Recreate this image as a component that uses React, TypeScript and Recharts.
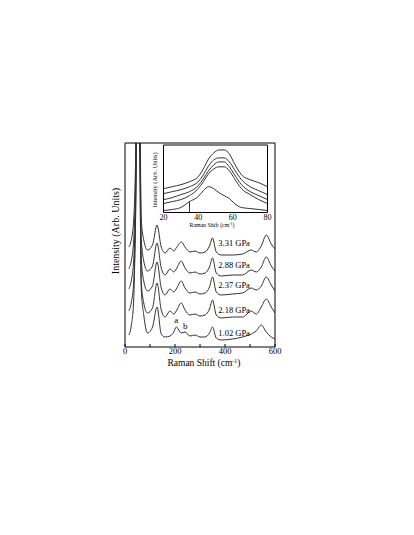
import { LineChart, Line, XAxis, YAxis, ReferenceDot, ReferenceLine, Label, CartesianGrid } from 'recharts';

const serif = '"Liberation Serif", "Times New Roman", serif';

// main spectra, Raman shift in cm-1
const shifts = [15, 25, 35, 42, 50, 58, 65, 75, 90, 110, 128, 145, 160, 180, 195, 205, 225, 240, 260, 280, 300, 320, 338, 350, 365, 385, 430, 470, 505, 525, 545, 565, 585, 600];
const i102 = [12, 21, 48, 128, 260, 210, 58, 32, 14, 20, 40, 13, 10, 11, 15, 20, 14, 15, 11, 12, 10, 10, 14, 20, 9, 7, 8, 10, 13, 16, 22, 15, 10, 8];
const i218 = [36, 44, 66, 125, 290, 235, 66, 44, 34, 39, 64, 37, 30, 36, 33, 36, 44, 37, 32, 33, 31, 32, 38, 47, 32, 29, 30, 30, 36, 33, 40, 48, 40, 34];
const i237 = [58, 66, 88, 145, 310, 255, 88, 66, 56, 61, 85, 59, 52, 58, 55, 58, 66, 59, 54, 55, 53, 54, 60, 70, 55, 52, 53, 54, 59, 57, 61, 70, 62, 56];
const i288 = [78, 86, 108, 165, 330, 275, 108, 86, 76, 81, 104, 79, 72, 78, 75, 78, 86, 79, 74, 75, 73, 74, 80, 89, 74, 71, 72, 72, 77, 75, 80, 90, 81, 76];
const i331 = [100, 107, 128, 183, 353, 293, 128, 107, 97, 102, 122, 100, 94, 99, 96, 99, 105, 100, 95, 96, 94, 95, 101, 109, 95, 92, 92, 93, 97, 95, 101, 112, 103, 98];

const pressures = ['1.02 GPa', '2.18 GPa', '2.37 GPa', '2.88 GPa', '3.31 GPa'];
const pressureLabelY = [13.7, 37.3, 62.5, 82, 104.3];
const pressureLabelX = 373;
const peakNames = ['a', 'b'];
const peakX = [205, 241];
const peakY = [27.5, 21];
const shiftTicks = [0, 100, 200, 300, 400, 500, 600];

// inset, low frequency region
const insetShifts = [20, 25, 30, 35, 40, 43, 46, 49, 52, 55, 58, 61, 65, 70, 75, 80];
const insetA = [24, 26, 28, 31, 36, 44, 54, 60, 63, 63, 59, 49, 38, 33, 30, 26];
const insetB = [19, 21, 23, 26, 31, 38, 47, 53, 55, 55, 51, 43, 33, 26, 22, 18];
const insetC = [13, 15, 18, 21, 27, 34, 42, 48, 51, 51, 46, 38, 28, 21, 17, 13];
const insetD = [9, 11, 13, 17, 24, 31, 39, 44, 46, 46, 42, 34, 24, 18, 13, 9];
const insetE = [2, 3, 5, 11, 16, 22, 26, 24, 20, 17, 14, 9, 5, 4, 3, 2];
const insetTicks = [20, 40, 60, 80];
const markerShift = 35;
const markerTop = 11;

const toPoints = (xs: number[], ys: number[]) => xs.map((x, i) => ({ x, y: ys[i] }));

const mainSeries = [i102, i218, i237, i288, i331];
const insetSeries = [insetA, insetB, insetC, insetD, insetE];

function MainChart() {
    return (
        <LineChart width={414} height={535} margin={{ top: 142, right: 138, bottom: 158, left: 124 }}>
            <XAxis
                xAxisId="b"
                type="number"
                dataKey="x"
                domain={[0, 600]}
                ticks={shiftTicks}
                tickFormatter={(v: number) => (v % 200 === 0 ? String(v) : '')}
                height={30}
                tickSize={-3}
                tickMargin={4}
                stroke="#000"
                tick={{ fill: '#000', fontSize: 8.5, fontFamily: serif }}
                allowDataOverflow
            >
                <Label
                    content={() => (
                        <text x={204} y={366} textAnchor="middle" fontSize={9.5} fontFamily={serif} fill="#000">
                            Raman Shift (cm<tspan dy={-3.5} fontSize={6}>-1</tspan><tspan dy={3.5}>)</tspan>
                        </text>
                    )}
                />
            </XAxis>
            <XAxis xAxisId="t" orientation="top" type="number" domain={[0, 600]} ticks={shiftTicks} height={1} tickSize={-3} tick={false} stroke="#000" />
            <YAxis yAxisId="l" type="number" domain={[0, 204]} allowDataOverflow width={1} tick={false} tickLine={false} tickSize={0} stroke="#000">
                <Label
                    content={() => (
                        <text x={117} y={231} transform="rotate(-90 117 231)" textAnchor="middle" dominantBaseline="middle" fontSize={10} fontFamily={serif} fill="#000">
                            Intensity (Arb. Units)
                        </text>
                    )}
                />
            </YAxis>
            <YAxis yAxisId="r" orientation="right" type="number" domain={[0, 204]} width={1} tick={false} tickLine={false} tickSize={0} stroke="#000" />
            {mainSeries.map((ys, i) => (
                <Line
                    key={pressures[i]}
                    xAxisId="b"
                    yAxisId="l"
                    data={toPoints(shifts, ys)}
                    dataKey="y"
                    type="monotone"
                    dot={false}
                    stroke="#333"
                    strokeWidth={1}
                    isAnimationActive={false}
                />
            ))}
            {pressures.map((p, i) => (
                <ReferenceDot
                    key={p}
                    xAxisId="b"
                    yAxisId="l"
                    x={pressureLabelX}
                    y={pressureLabelY[i]}
                    r={0}
                    stroke="none"
                    label={{ value: p, position: 'right', offset: 0, fill: '#000', fontSize: 8.5, fontFamily: serif }}
                />
            ))}
            {peakNames.map((n, i) => (
                <ReferenceDot
                    key={n}
                    xAxisId="b"
                    yAxisId="l"
                    x={peakX[i]}
                    y={peakY[i]}
                    r={0}
                    stroke="none"
                    label={{ value: n, position: 'center', fill: '#000', fontSize: 9, fontFamily: serif }}
                />
            ))}
        </LineChart>
    );
}

function InsetChart() {
    return (
        <LineChart width={125} height={95} margin={{ top: 4, right: 6.5, bottom: 2.5, left: 12.5 }}>
            <CartesianGrid horizontal={false} vertical={false} fill="#fff" xAxisId="b" yAxisId="l" />
            <XAxis
                xAxisId="b"
                type="number"
                dataKey="x"
                domain={[20, 80]}
                ticks={insetTicks}
                height={20}
                tickLine={false}
                tickSize={0}
                tickMargin={2.3}
                stroke="#000"
                tick={{ fill: '#000', fontSize: 8, fontFamily: serif }}
            >
                <Label
                    content={() => (
                        <text x={62} y={87} textAnchor="middle" fontSize={5.8} fontFamily={serif} fill="#000">
                            Raman Shift (cm<tspan dy={-2} fontSize={4}>-1</tspan><tspan dy={2}>)</tspan>
                        </text>
                    )}
                />
            </XAxis>
            <XAxis xAxisId="t" orientation="top" type="number" domain={[20, 80]} height={1} tick={false} tickLine={false} tickSize={0} stroke="#000" />
            <YAxis yAxisId="l" type="number" domain={[0, 68]} width={1} tick={false} tickLine={false} tickSize={0} stroke="#000">
                <Label
                    content={() => (
                        <text x={5.5} y={40} transform="rotate(-90 5.5 40)" textAnchor="middle" dominantBaseline="middle" fontSize={6.4} fontFamily={serif} fill="#000">
                            Intensity (Arb. Units)
                        </text>
                    )}
                />
            </YAxis>
            <YAxis yAxisId="r" orientation="right" type="number" domain={[0, 68]} width={1} tick={false} tickLine={false} tickSize={0} stroke="#000" />
            {insetSeries.map((ys, i) => (
                <Line
                    key={i}
                    xAxisId="b"
                    yAxisId="l"
                    data={toPoints(insetShifts, ys)}
                    dataKey="y"
                    type="monotone"
                    dot={false}
                    stroke="#333"
                    strokeWidth={1}
                    isAnimationActive={false}
                />
            ))}
            <ReferenceLine
                xAxisId="b"
                yAxisId="l"
                segment={[{ x: markerShift, y: 0 }, { x: markerShift, y: markerTop }]}
                stroke="#333"
                strokeWidth={1}
            />
        </LineChart>
    );
}

export default function App() {
    return (
        <div style={{ position: 'absolute', left: 0, top: 0, width: 414, height: 535, background: '#fff' }}>
            <div style={{ position: 'absolute', left: 0, top: 0 }}>
                <MainChart />
            </div>
            <div style={{ position: 'absolute', left: 150, top: 140 }}>
                <InsetChart />
            </div>
        </div>
    );
}
